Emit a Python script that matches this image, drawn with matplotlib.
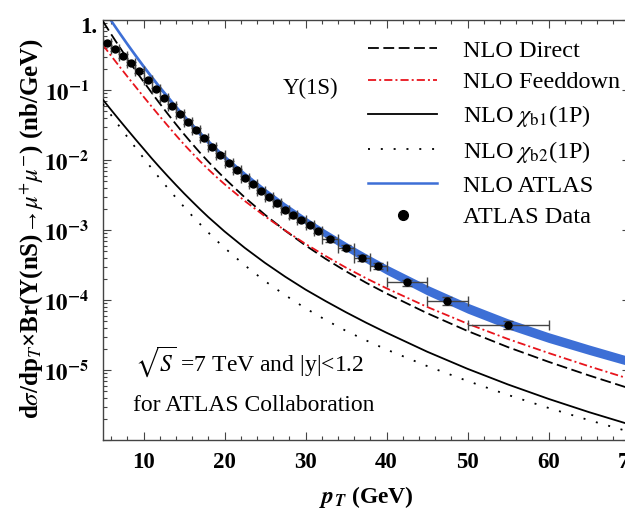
import matplotlib
matplotlib.use("Agg")
import matplotlib.pyplot as plt
from matplotlib.lines import Line2D
from matplotlib.ticker import NullFormatter, LogLocator
from matplotlib.transforms import ScaledTranslation
import numpy as np

plt.rcParams['font.family'] = 'serif'
plt.rcParams['font.serif'] = ['Liberation Serif', 'DejaVu Serif']
plt.rcParams['mathtext.fontset'] = 'stix'

# ---------------- data ----------------
pt_curve = [5, 6, 7, 8, 9, 10, 11, 12, 13, 14, 15, 16, 17, 18, 19, 20,
            22.5, 25, 27.5, 30, 32.5, 35, 37.5, 40, 45, 50, 55, 60, 65, 70]

nlo_atlas = [1.445, 0.971, 0.658, 0.450, 0.311, 0.217, 0.153, 0.109, 0.0783, 0.0570,
             0.0420, 0.0313, 0.0237, 0.0181, 0.0140, 0.0109, 0.00611, 0.00358, 0.00217,
             0.00136, 0.000879, 0.000581, 0.000393, 0.000272, 0.000139, 7.66e-5, 4.56e-5,
             2.91e-5, 1.95e-5, 1.33e-5]
# half thickness of the NLO ATLAS band, in decades
nlo_atlas_halfband = [0.033, 0.033, 0.033, 0.033, 0.033, 0.033, 0.033, 0.033, 0.035, 0.035,
                      0.035, 0.038, 0.038, 0.038, 0.038, 0.038, 0.042, 0.045, 0.048, 0.052,
                      0.056, 0.060, 0.064, 0.067, 0.070, 0.072, 0.072, 0.070, 0.068, 0.066]
nlo_direct = [0.955, 0.628, 0.418, 0.281, 0.191, 0.132, 0.0916, 0.0643, 0.0455, 0.0325,
              0.0234, 0.0171, 0.0126, 0.00946, 0.00716, 0.00548, 0.00292, 0.00165, 0.000977,
              0.000603, 0.000386, 0.000257, 0.000176, 0.000124, 6.49e-5, 3.61e-5, 2.12e-5,
              1.31e-5, 8.36e-6, 5.46e-6]
nlo_feeddown = [0.437, 0.308, 0.219, 0.156, 0.112, 0.0804, 0.0581, 0.0422, 0.0308, 0.0226,
                0.0167, 0.0126, 0.00955, 0.00735, 0.00573, 0.00452, 0.00260, 0.00157, 0.000982,
                0.000634, 0.000424, 0.000290, 0.000204, 0.000147, 7.98e-5, 4.59e-5, 2.77e-5,
                1.75e-5, 1.13e-5, 7.45e-6]
nlo_chib1 = [0.0724, 0.0520, 0.0375, 0.0272, 0.0198, 0.0145, 0.0106, 0.00785, 0.00586, 0.00441,
             0.00334, 0.00256, 0.00197, 0.00153, 0.00121, 0.000955, 0.000556, 0.000339,
             0.000215, 0.000141, 9.62e-5, 6.68e-5, 4.73e-5, 3.41e-5, 1.83e-5, 1.04e-5,
             6.21e-6, 3.87e-6, 2.50e-6, 1.67e-6]
nlo_chib2 = [0.0631, 0.0438, 0.0305, 0.0214, 0.0151, 0.0107, 0.00760, 0.00547, 0.00396, 0.00290,
             0.00214, 0.00160, 0.00121, 0.000920, 0.000711, 0.000556, 0.000313, 0.000186,
             0.000117, 7.62e-5, 5.18e-5, 3.62e-5, 2.64e-5, 1.96e-5, 1.14e-5, 6.97e-6,
             4.40e-6, 2.87e-6, 1.92e-6, 1.31e-6]

pt_data = [5.5, 6.5, 7.5, 8.5, 9.5, 10.5, 11.5, 12.5, 13.5, 14.5, 15.5, 16.5, 17.5, 18.5, 19.5,
           20.5, 21.5, 22.5, 23.5, 24.5, 25.5, 26.5, 27.5, 28.5, 29.5, 30.5, 31.5,
           33, 35, 37, 39, 42.5, 47.5, 55]
pt_halfwidth = [0.5] * 27 + [1, 1, 1, 1, 2.5, 2.5, 5]
atlas_data = [0.468, 0.380, 0.309, 0.240, 0.186, 0.138, 0.102, 0.0776, 0.0589, 0.0457, 0.0347,
              0.0269, 0.0204, 0.0155, 0.0117, 0.00912, 0.00708, 0.00562, 0.00447, 0.00355,
              0.00295, 0.00240, 0.00195, 0.00162, 0.00138, 0.00117, 0.000977,
              0.000741, 0.000562, 0.000398, 0.000309, 0.000178, 9.77e-5, 4.37e-5]
atlas_rel_err = [0.06] * 20 + [0.07] * 7 + [0.08, 0.08, 0.09, 0.10, 0.10, 0.12, 0.13]

y_ticks = [1e-6, 1e-5, 1e-4, 1e-3, 1e-2, 1e-1, 1.0]
y_tick_labels = ['', r'$\mathbf{10^{-5}}$', r'$\mathbf{10^{-4}}$', r'$\mathbf{10^{-3}}$',
                 r'$\mathbf{10^{-2}}$', r'$\mathbf{10^{-1}}$', '1.']
x_ticks = [10, 20, 30, 40, 50, 60, 70]

legend_labels = ['NLO Direct', 'NLO Feeddown', r'NLO $\chi_{\mathrm{b1}}$(1P)',
                 r'NLO $\chi_{\mathrm{b2}}$(1P)', 'NLO ATLAS', 'ATLAS Data']

# ---------------- figure ----------------
fig = plt.figure(figsize=(6.25, 5.12), dpi=100)
ax = fig.add_axes([103 / 625, 72 / 512, 526.5 / 625, 420 / 512])

blue = '#3d6fd6'
red = '#e8141c'
band = 10 ** np.array(nlo_atlas_halfband)
ax.fill_between(pt_curve, np.array(nlo_atlas) / band, np.array(nlo_atlas) * band,
                color=blue, lw=0, zorder=2)
ax.plot(pt_curve, nlo_direct, color='black', lw=1.3, dashes=(6, 2.5), zorder=3)
ax.plot(pt_curve, nlo_feeddown, color=red, lw=1.3, dashes=(4.5, 1.7, 1.1, 1.7), zorder=3)
ax.plot(pt_curve, nlo_chib1, color='black', lw=1.3, zorder=3)
ax.plot(pt_curve, nlo_chib2, color='black', lw=1.3, dashes=(1.1, 6), zorder=3)

yerr = np.array(atlas_data) * np.array(atlas_rel_err)
ax.errorbar(pt_data, atlas_data, xerr=pt_halfwidth, yerr=yerr, fmt='o', color='black',
            ms=5, ecolor='#444444', elinewidth=1.0, capsize=3.5, capthick=1.0, zorder=4)

ax.set_yscale('log')
ax.set_xlim(5, 70)
ax.set_ylim(1e-6, 1.0)

ax.set_yticks(y_ticks, y_tick_labels)
ax.yaxis.set_minor_locator(LogLocator(base=10, subs=np.arange(2, 10), numticks=20))
ax.yaxis.set_minor_formatter(NullFormatter())
ax.set_xticks(x_ticks, [str(t) for t in x_ticks])
ax.set_xticks(np.arange(6, 71, 2), minor=True)

ax.tick_params(which='both', direction='in', top=True, right=True, color='#444444', width=0.8)
ax.tick_params(which='major', length=6)
ax.tick_params(which='minor', length=3)
ax.tick_params(axis='y', which='major', pad=10)
ax.tick_params(axis='x', which='major', pad=9)
for sp in ax.spines.values():
    sp.set_color('#444444')
    sp.set_linewidth(1.0)

for lab in ax.get_xticklabels() + ax.get_yticklabels():
    lab.set_fontweight('bold')
    lab.set_fontsize(16.5)
one_label = ax.get_yticklabels()[-1]
one_label.set_transform(one_label.get_transform() +
                        ScaledTranslation(0.08, -0.05, fig.dpi_scale_trans))

ax.set_xlabel(r'$\mathbfit{p}_{\mathbfit{T}}$ (GeV)', fontsize=17, fontweight='bold')
ax.xaxis.set_label_coords(0.5, -0.136)
ax.xaxis.label.set_va('center')
ax.set_ylabel(r'd$\sigma$/dp$_{T}$×Br(Υ(nS)→$\mu^{+}\mu^{-}$) (nb/GeV)', fontsize=18,
              fontweight='bold')
ax.yaxis.set_label_coords(-0.135, 0.505)
ax.yaxis.label.set_va('center')

ax.text(0.342, 0.838, 'Υ(1S)', transform=ax.transAxes, fontsize=16.5, ha='left', va='center')
ax.text(0.061, 0.186, r'$\sqrt{S}$ =7 TeV and |y|<1.2', transform=ax.transAxes, fontsize=17,
        ha='left', va='center')
ax.text(0.057, 0.083, 'for ATLAS Collaboration', transform=ax.transAxes, fontsize=17,
        ha='left', va='center')

handles = [
    Line2D([], [], color='black', lw=1.3, dashes=(6, 2.5)),
    Line2D([], [], color=red, lw=1.3, dashes=(4.5, 1.7, 1.1, 1.7)),
    Line2D([], [], color='black', lw=1.3),
    Line2D([], [], color='black', lw=1.3, dashes=(1.1, 6)),
    Line2D([], [], color=blue, lw=1.8),
    Line2D([], [], color='black', marker='o', ms=7, lw=0),
]
ax.legend(handles, legend_labels, loc='upper left', bbox_to_anchor=(0.504, 0.953),
          frameon=False, fontsize=17.5, handlelength=2.84, handletextpad=1.07,
          labelspacing=0.40, borderpad=0, borderaxespad=0)

fig.savefig('out.png', dpi=100)
